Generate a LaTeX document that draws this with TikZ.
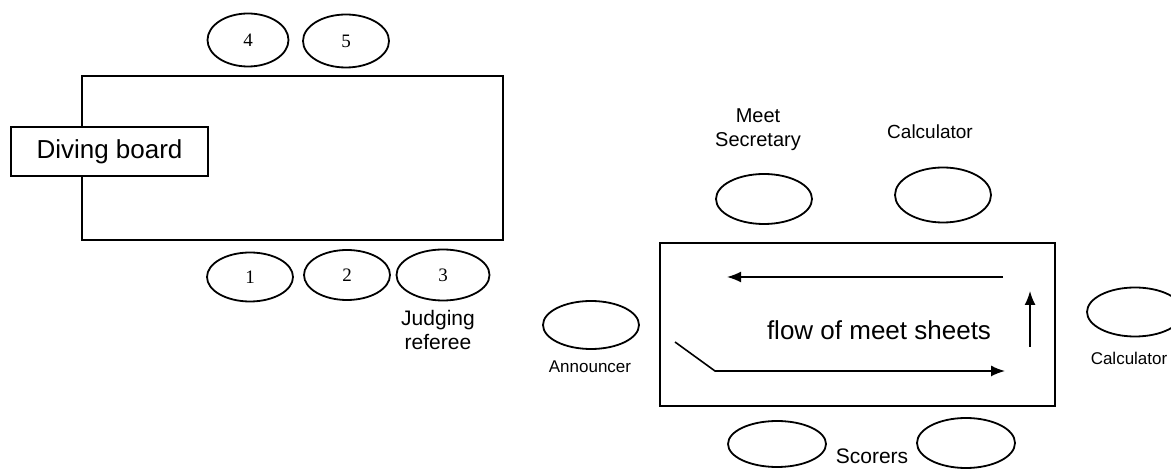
\documentclass[tikz,border=0pt]{standalone}
\usepackage{fontspec}
\setmainfont{Liberation Serif}
\setsansfont{Liberation Sans}
\usetikzlibrary{shapes.geometric,arrows.meta}

\begin{document}
\begin{tikzpicture}[
      x=0.5pt, y=-0.5pt,
      font=\sffamily,
      line width=0.8pt,
      area/.style={draw=black, inner sep=0pt},
      seat/.style={draw=black, ellipse, inner sep=0pt, line width=0.9pt,
        minimum width=48pt, minimum height=25pt, font=\rmfamily\fontsize{9.5}{10}\selectfont},
      role/.style={align=center, inner sep=0pt, font=\sffamily\fontsize{10}{12}\selectfont},
      tiny/.style={inner sep=0pt, font=\sffamily\fontsize{8.5}{10}\selectfont},
      flow/.style={-{Latex[length=7pt, width=5.5pt]}}
    ]
      \useasboundingbox (0,0) rectangle (1171,469);

      % The pool and the board
      \node[area, minimum width=210.5pt, minimum height=82pt] (pool) at (292.5,158) {};
      \node[area, fill=white, minimum width=98.5pt, minimum height=24.5pt,
        font=\sffamily\fontsize{13}{15}\selectfont]
        (board)
        at
        (109.5,151.5)
        {Diving board};

      % Judges round the pool
      \node[seat, minimum width=40.5pt, minimum height=26.5pt] (j4) at (248,40) {4};
      \node[seat, minimum width=43pt, minimum height=26.5pt] (j5) at (346,41) {5};
      \node[seat, minimum width=43pt, minimum height=24.5pt] (j1) at (250,277) {1};
      \node[seat, minimum width=43pt, minimum height=25pt] (j2) at (347,275) {2};
      \node[seat, minimum width=46.5pt, minimum height=25.5pt] (j3) at (443,275) {3};
      \node[role, font=\sffamily\fontsize{10.5}{12}\selectfont] (referee) at (438,330)
        {Judging \\ referee};

      % The meet table
      \node[area, minimum width=197.5pt, minimum height=81.5pt] (table) at (857.5,324.5) {};

      \node[seat] (secretary) at (764,199) {};
      \node[seat, minimum height=27.5pt] (calctop) at (943,195) {};
      \node[seat, minimum height=24pt] (announcer) at (591,325) {};
      \node[seat, minimum height=24.5pt] (calcright) at (1135,312) {};
      \node[seat, minimum width=49pt, minimum height=23pt] (scorer1) at (777,444) {};
      \node[seat, minimum width=49pt, minimum height=25pt] (scorer2) at (966,443) {};

      \node[role] (secretarytext) at (758,130) {Meet \\ Secretary};
      \node[role, font=\sffamily\fontsize{9.5}{12}\selectfont] (calctoptext) at (930,132) {Calculator};
      \node[tiny] (announcertext) at (590,367) {Announcer};
      \node[tiny] (calcrighttext) at (1129,358) {Calculator};
      \node[role, font=\sffamily\fontsize{10.5}{12}\selectfont] (scorerstext) at (872,456) {Scorers};

      % Flow of the sheets inside the table
      \node[inner sep=0pt, font=\sffamily\fontsize{13}{15}\selectfont] (flowtext) at (879,330)
        {flow of meet sheets};
      \coordinate (in) at (675,342);
      \coordinate (bend) at (715,371);
      \coordinate (lowend) at (1005,371);
      \coordinate (upstart) at (1030,347);
      \coordinate (upend) at (1030,291);
      \coordinate (topstart) at (1003,277);
      \coordinate (topend) at (727,277);
      \draw[flow] (in) -- (bend) -- (lowend);
      \draw[flow] (upstart) -- (upend);
      \draw[flow] (topstart) -- (topend);
    \end{tikzpicture}
\end{document}
